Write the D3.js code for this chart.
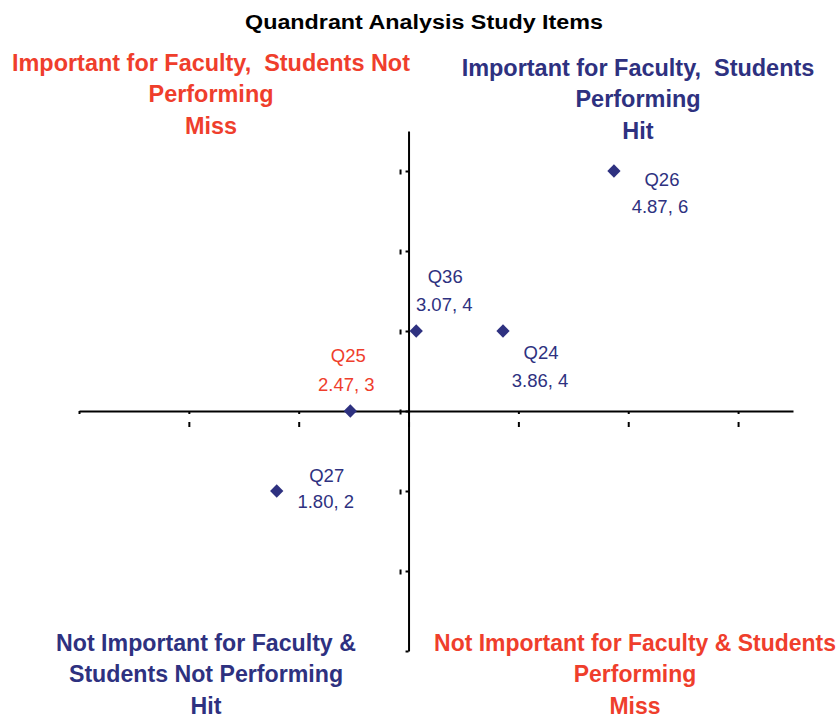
<html lang="en">
<head>
<meta charset="UTF-8">
<title>Quandrant Analysis Study Items</title>
<style>
    body { margin: 0; background: #fff; }
    svg { display: block; }
    .qlabel { font-family: "Liberation Sans", Arial, sans-serif; font-weight: bold; white-space: pre; }
    .plabel { font-family: "Liberation Sans", Arial, sans-serif; font-size: 18.5px; }
</style>
</head>
<body>
<svg id="chart" width="840" height="718"></svg>
<script src="https://d3js.org/d3.v7.min.js"></script>
<script>
    // data
    const items = ["Q26", "Q36", "Q24", "Q25", "Q27"];
    const faculty = [4.87, 3.07, 3.86, 2.47, 1.80];   // x
    const students = [6, 4, 4, 3, 2];                  // y
    const xTicks = [0, 1, 2, 3, 4, 5, 6];
    const yTicks = [0, 1, 2, 3, 4, 5, 6];

    const title = "Quandrant Analysis Study Items";
    const quadrants = [
        ["Important for Faculty,  Students Not", "Performing", "Miss"],
        ["Important for Faculty,  Students", "Performing", "Hit"],
        ["Not Important for Faculty &", "Students Not Performing", "Hit"],
        ["Not Important for Faculty & Students", "Performing", "Miss"]
    ];

    const navy = "#2e3180";
    const red = "#ef3e2c";

    // layout for the quadrant captions: centre x, first baseline, target width of first line
    const quadLayout = [
        { cx: 211, y: 71, w: 398, color: red },
        { cx: 638, y: 76, w: 353, color: navy },
        { cx: 206, y: 651, w: 300, color: navy },
        { cx: 635, y: 651, w: 402, color: red }
    ];
    // label offsets from each point (name line, value line)
    const labelOffsets = [
        { dx: 48, dy: 15, vdx: 46, vdy: 42 },
        { dx: 29, dy: -48, vdx: 28, vdy: -20 },
        { dx: 38, dy: 28, vdx: 37, vdy: 56 },
        { dx: -2, dy: -49, vdx: -4, vdy: -20 },
        { dx: 50, dy: -9, vdx: 49, vdy: 17 }
    ];
    const labelColors = [navy, navy, navy, red, navy];

    const svg = d3.select("#chart");

    const x = d3.scaleLinear().domain([0, 6.5]).range([79, 793]);
    const y = d3.scaleLinear().domain([0, 6.5]).range([651, 131]);

    // title
    const t = svg.append("text")
        .attr("class", "qlabel")
        .attr("x", 0).attr("y", 0)
        .attr("text-anchor", "middle")
        .style("font-size", "20px")
        .text(title);
    const tw = t.node().getComputedTextLength();
    t.attr("transform", `translate(424,29) scale(${358 / tw},1)`);

    // axes crossing at (3, 3)
    const xAxis = svg.append("g")
        .attr("transform", `translate(0,${y(3)})`)
        .call(d3.axisBottom(x).tickValues(xTicks).tickSize(3).tickSizeOuter(0).tickFormat(""));
    const yAxis = svg.append("g")
        .attr("transform", `translate(${x(3)},0)`)
        .call(d3.axisLeft(y).tickValues(yTicks).tickSize(3).tickSizeOuter(0).tickFormat(""));

    [xAxis, yAxis].forEach(g => {
        g.select(".domain").attr("stroke", "#000").attr("stroke-width", 2);
        g.selectAll(".tick line").attr("stroke", "#000").attr("stroke-width", 2);
    });

    // little marks where the tick labels would sit
    xAxis.selectAll(".tick").filter(d => d > 0).append("line")
        .attr("x1", 0).attr("x2", 0).attr("y1", 11).attr("y2", 16)
        .attr("stroke", "#000").attr("stroke-width", 2);
    yAxis.selectAll(".tick").filter(d => d > 0).append("line")
        .attr("x1", -8).attr("x2", -8).attr("y1", -2).attr("y2", 3)
        .attr("stroke", "#000").attr("stroke-width", 2);

    // quadrant captions
    quadrants.forEach((lines, i) => {
        const L = quadLayout[i];
        const g = svg.append("g");
        const texts = lines.map((s, j) => g.append("text")
            .attr("class", "qlabel")
            .attr("text-anchor", "middle")
            .attr("x", 0)
            .attr("y", j * 31.5)
            .attr("fill", L.color)
            .style("font-size", "24px")
            .text(s));
        const w = texts[0].node().getComputedTextLength();
        g.attr("transform", `translate(${L.cx},${L.y}) scale(${L.w / w},1)`);
    });

    // points
    const pts = items.map((name, i) => ({ name, fx: faculty[i], sy: students[i], i }));

    svg.append("g").selectAll("path")
        .data(pts)
        .enter().append("path")
        .attr("d", d3.symbol().type(d3.symbolSquare).size(88))
        .attr("transform", d => `translate(${x(d.fx)},${y(d.sy)}) rotate(45)`)
        .attr("fill", navy);

    const lab = svg.append("g").selectAll("g")
        .data(pts)
        .enter().append("g")
        .attr("fill", d => labelColors[d.i]);

    lab.append("text")
        .attr("class", "plabel")
        .attr("text-anchor", "middle")
        .attr("x", d => x(d.fx) + labelOffsets[d.i].dx)
        .attr("y", d => y(d.sy) + labelOffsets[d.i].dy)
        .text(d => d.name);

    lab.append("text")
        .attr("class", "plabel")
        .attr("text-anchor", "middle")
        .attr("x", d => x(d.fx) + labelOffsets[d.i].vdx)
        .attr("y", d => y(d.sy) + labelOffsets[d.i].vdy)
        .text(d => `${d.fx.toFixed(2)}, ${d.sy}`);
</script>
</body>
</html>
